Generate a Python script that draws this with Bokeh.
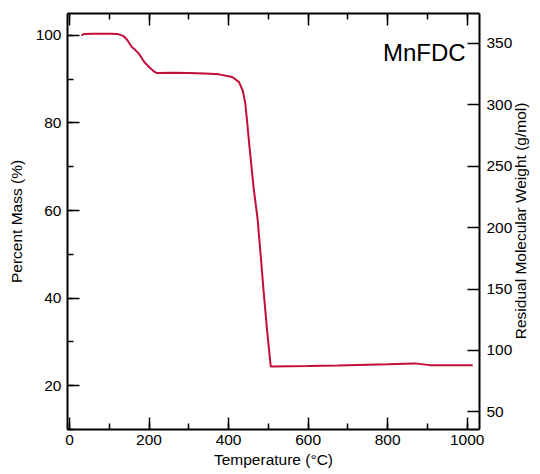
import math
import json
from bokeh.plotting import figure
from bokeh.models import (Range1d, LinearAxis, SingleIntervalTicker, FixedTicker, Label,
                          ColumnDataSource, CustomJSTickFormatter)
from bokeh.embed import file_html
from bokeh.resources import INLINE

# Data (TGA curve of MnFDC)
temperature = [30, 36, 60, 100, 122, 135, 145, 156, 165, 173, 182, 189, 202, 212, 220,
               260, 300, 340, 376, 409, 426, 436, 442, 447, 452, 463, 473, 481, 488,
               497, 506, 510, 600, 675, 750, 800, 869, 905, 960, 1014]
percent_mass = [100.0, 100.3, 100.35, 100.4, 100.3, 99.9, 99.0, 97.4, 96.7, 96.0, 94.8,
                93.8, 92.6, 91.8, 91.4, 91.45, 91.4, 91.3, 91.1, 90.5, 89.4, 87.3, 84.5,
                80.0, 75.1, 65.2, 58.1, 49.5, 41.7, 32.5, 24.4, 24.4, 24.5, 24.6, 24.8,
                24.9, 25.1, 24.7, 24.7, 24.7]
sample_label = "MnFDC"
right_axis_title = "Residual Molecular Weight (g/mol)"
molar_mass_full = 356.5  # g/mol corresponding to 100 %

FONT = "Liberation Sans"
LINE_COLOR = "#c20f3a"

x_min, x_max = -5, 1031
y_min, y_max = 10, 105

p = figure(width=540, height=474, output_backend="svg", toolbar_location=None,
           x_range=Range1d(x_min, x_max), y_range=Range1d(y_min, y_max),
           min_border_left=67, min_border_right=57, min_border_top=13, min_border_bottom=45)
p.extra_y_ranges = {"mw": Range1d(y_min * molar_mass_full / 100, y_max * molar_mass_full / 100),
                    "title": Range1d(0, 1)}

p.grid.visible = False
p.outline_line_color = None
p.background_fill_color = "white"
p.border_fill_color = "white"

src = ColumnDataSource(dict(t=temperature, m=percent_mass))
p.line("t", "m", source=src, line_color=LINE_COLOR, line_width=2)


def style_axis(ax, minor=True):
    ax.axis_line_width = 2
    ax.axis_line_color = "black"
    ax.major_tick_in = 12
    ax.major_tick_out = 0
    ax.major_tick_line_width = 1.5
    ax.minor_tick_in = 6 if minor else 0
    ax.minor_tick_out = 0
    ax.minor_tick_line_width = 1.5
    if not minor:
        ax.minor_tick_line_color = None
    ax.major_label_text_font = FONT
    ax.major_label_text_font_size = "15.5px"
    ax.major_label_text_color = "black"
    ax.axis_label_text_font = FONT
    ax.axis_label_text_font_size = "15.5px"
    ax.axis_label_text_font_style = "normal"
    ax.axis_label_text_color = "black"


# bottom axis
xa = p.xaxis[0]
xa.ticker = SingleIntervalTicker(interval=200, num_minor_ticks=2)
xa.axis_label = "Temperature (°C)"
style_axis(xa)
xa.major_label_standoff = 5
xa.axis_label_standoff = 3

# left axis
ya = p.yaxis[0]
ya.ticker = SingleIntervalTicker(interval=20, num_minor_ticks=2)
ya.axis_label = "Percent Mass (%)"
style_axis(ya)
ya.major_label_standoff = 6
ya.axis_label_standoff = 8

# right axis (ticks and numbers)
ra = LinearAxis(y_range_name="mw", ticker=SingleIntervalTicker(interval=50, num_minor_ticks=0))
style_axis(ra, minor=False)
ra.major_label_standoff = 7
p.add_layout(ra, "right")

# right axis title, reading bottom-to-top: one rotated label anchored at its start,
# placed so that the text is centred on the frame height
title_len_frac = 0.566  # estimated text length as a fraction of frame height
rt = LinearAxis(y_range_name="title", ticker=FixedTicker(ticks=[0.5 - title_len_frac / 2]),
                formatter=CustomJSTickFormatter(code="return " + json.dumps(right_axis_title) + ";"))
style_axis(rt, minor=False)
rt.axis_line_color = None
rt.major_tick_line_color = None
rt.major_tick_in = 0
rt.major_label_standoff = 5
rt.major_label_orientation = math.pi / 2
p.add_layout(rt, "right")

# top axis (ticks only)
ta = LinearAxis(ticker=SingleIntervalTicker(interval=200, num_minor_ticks=2),
                formatter=CustomJSTickFormatter(code="return '';"))
style_axis(ta)
ta.major_label_standoff = 0
p.add_layout(ta, "above")

p.add_layout(Label(x=996, y=96, text=sample_label, text_align="right",
                   text_baseline="alphabetic", text_font=FONT,
                   text_font_size="24px", text_color="black"))

open("out.html", "w").write(file_html(p, INLINE))
